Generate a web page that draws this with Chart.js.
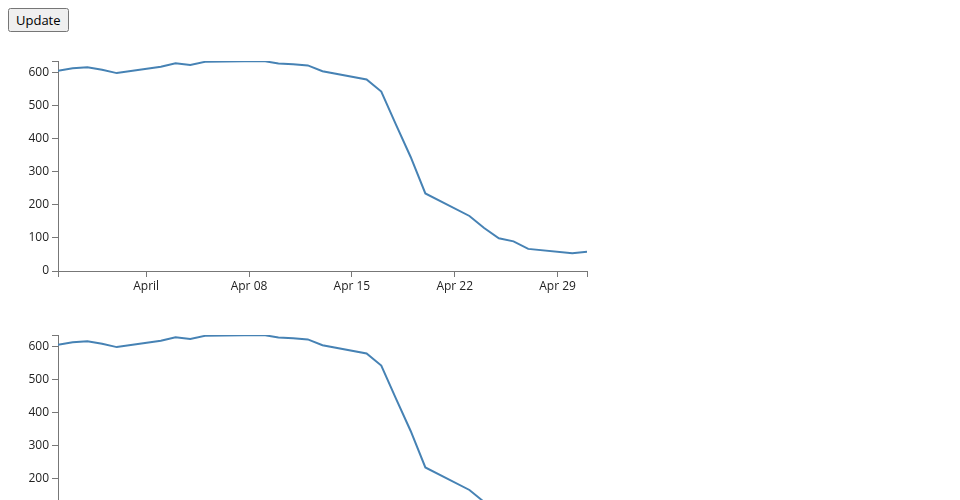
<!DOCTYPE html>
<html>
<head>
   <meta charset="utf-8">
   <script src="https://cdn.jsdelivr.net/npm/chart.js@4/dist/chart.umd.min.js"></script>
   <title>Close price</title>
   <style>
      body { margin: 8px; overflow: hidden; font-family: "Open Sans", sans-serif; }
      button { font-family: "Open Sans", sans-serif; font-size: 13px; }
      .box { position: absolute; left: 0; width: 620px; height: 260px; }
   </style>
</head>
<body>
   <button id="update">Update</button>
   <div class="box" style="top: 41px"><canvas id="chart1"></canvas></div>
   <div class="box" style="top: 315px"><canvas id="chart2"></canvas></div>
<script>
   // the classic date / close sample
   const dates = ["2012-03-26", "2012-03-27", "2012-03-28", "2012-03-29", "2012-03-30",
      "2012-04-02", "2012-04-03", "2012-04-04", "2012-04-05", "2012-04-09",
      "2012-04-10", "2012-04-11", "2012-04-12", "2012-04-13", "2012-04-16",
      "2012-04-17", "2012-04-18", "2012-04-19", "2012-04-20", "2012-04-23",
      "2012-04-24", "2012-04-25", "2012-04-26", "2012-04-27", "2012-04-30",
      "2012-05-01"];
   const closes = [606.98, 614.48, 617.62, 609.86, 599.55,
      618.63, 629.32, 624.31, 633.68, 636.23,
      628.44, 626.20, 622.77, 605.23, 580.13,
      543.70, 443.34, 345.44, 234.98, 166.70,
      130.28, 99.00, 89.70, 67.00, 53.98,
      58.13];
   const xTickDates = ["2012-04-01", "2012-04-08", "2012-04-15", "2012-04-22", "2012-04-29"];
   const xTickLabels = ["April", "Apr 08", "Apr 15", "Apr 22", "Apr 29"];
   const yTicks = [0, 100, 200, 300, 400, 500, 600];

   const axisColor = "#777";
   const textColor = "#222";

   const xMin = Date.parse(dates[0]);
   const xMax = Date.parse(dates[dates.length - 1]);
   const yMax = Math.max(...closes);

   function makeChart(id) {
      const points = [];
      for (let i = 0; i < dates.length; i++) {
         points.push({ x: Date.parse(dates[i]), y: closes[i] });
      }
      return new Chart(document.getElementById(id), {
         type: 'line',
         data: {
            datasets: [{
               data: points,
               borderColor: "steelblue",
               borderWidth: 2,
               pointRadius: 0,
               tension: 0,
               fill: false
            }]
         },
         options: {
            responsive: true,
            maintainAspectRatio: false,
            animation: false,
            layout: { padding: { top: 20, right: 33, bottom: 0, left: 0 } },
            plugins: { legend: { display: false }, tooltip: { enabled: false } },
            scales: {
               x: {
                  type: 'linear',
                  min: xMin,
                  max: xMax,
                  afterBuildTicks: function (scale) {
                     const t = [{ value: xMin }];
                     xTickDates.forEach(d => t.push({ value: Date.parse(d) }));
                     t.push({ value: xMax });
                     scale.ticks = t;
                  },
                  afterFit: function (scale) { scale.height = 30; },
                  ticks: {
                     autoSkip: false,
                     maxRotation: 0,
                     padding: 2,
                     color: textColor,
                     font: { family: "Open Sans", size: 12 },
                     callback: function (v) {
                        const k = xTickDates.findIndex(d => Date.parse(d) === v);
                        return k < 0 ? "" : xTickLabels[k];
                     }
                  },
                  grid: { drawOnChartArea: false, tickLength: 6, color: axisColor },
                  border: { color: axisColor }
               },
               y: {
                  min: 0,
                  max: yMax,
                  afterBuildTicks: function (scale) {
                     const t = yTicks.map(v => ({ value: v }));
                     t.push({ value: yMax });
                     scale.ticks = t;
                  },
                  afterFit: function (scale) { scale.width = 58; },
                  ticks: {
                     padding: 3,
                     color: textColor,
                     font: { family: "Open Sans", size: 12 },
                     callback: function (v) { return yTicks.includes(v) ? String(v) : ""; }
                  },
                  grid: { drawOnChartArea: false, tickLength: 6, color: axisColor },
                  border: { color: axisColor }
               }
            }
         }
      });
   }

   makeChart("chart1");
   makeChart("chart2");
</script>
</body>
</html>
